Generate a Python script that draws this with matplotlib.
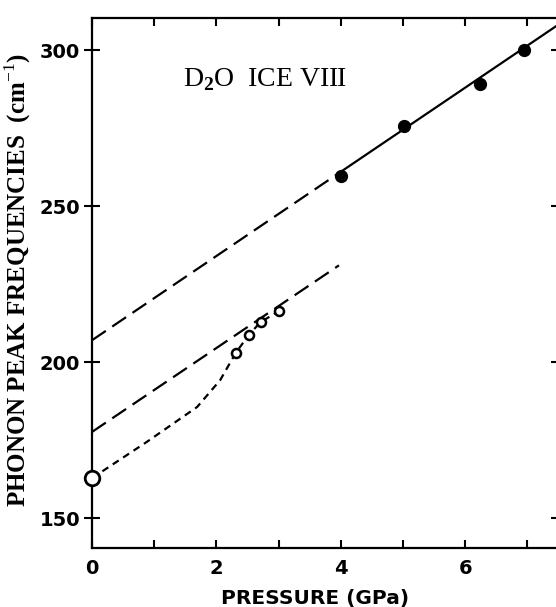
import matplotlib
matplotlib.use('Agg')
import matplotlib.pyplot as plt

# measured points (GPa, cm-1)
filled_p = [4.0, 5.02, 6.23, 6.94]
filled_f = [259.6, 275.6, 289.1, 300.0]

open_p = [2.31, 2.52, 2.71, 3.0]
open_f = [202.9, 208.7, 212.8, 216.3]

zero_p = [0.0]
zero_f = [162.8]

# guide curve through low pressure data
curve_p = [0.0, 0.88, 1.69, 2.06, 2.31, 2.52, 2.71, 3.0]
curve_f = [162.8, 174.4, 185.6, 194.2, 202.9, 208.7, 212.8, 216.3]

# fitted lines (end points)
upper_dash_p = [0.0, 4.0]
upper_dash_f = [207.0, 261.0]
upper_solid_p = [4.0, 7.5]
upper_solid_f = [261.0, 308.2]
lower_dash_p = [0.0, 3.97]
lower_dash_f = [177.6, 231.0]

xticks_major = [0, 2, 4, 6]
xticks_minor = [1, 3, 5, 7]
yticks = [150, 200, 250, 300]

plt.rcParams['mathtext.fontset'] = 'custom'
plt.rcParams['mathtext.rm'] = 'Liberation Serif'
plt.rcParams['mathtext.bf'] = 'Liberation Serif:bold'

fig = plt.figure(figsize=(5.56, 6.07), dpi=100)
ax = fig.add_axes([92 / 556, 59 / 607, 466.5 / 556, 530 / 607])

lw = 1.6
ax.plot(upper_dash_p, upper_dash_f, color='black', lw=lw, dashes=(7.5, 3.5))
ax.plot(upper_solid_p, upper_solid_f, color='black', lw=lw)
ax.plot(lower_dash_p, lower_dash_f, color='black', lw=lw, dashes=(7.5, 3.5))
ax.plot(curve_p, curve_f, color='black', lw=lw, dashes=(3.2, 2.4))

ax.plot(filled_p, filled_f, 'o', color='black', ms=8.5, zorder=5)
ax.plot(open_p, open_f, 'o', mfc='white', mec='black', mew=1.8, ms=6.5, zorder=5)
ax.plot(zero_p, zero_f, 'o', mfc='white', mec='black', mew=2.0, ms=10.5, zorder=6, clip_on=False)

ax.set_xlim(0, 7.5)
ax.set_ylim(140.4, 310.3)

for s in ax.spines.values():
    s.set_linewidth(1.6)

ax.set_xticks(xticks_major)
ax.set_xticks(xticks_minor, minor=True)
ax.set_yticks(yticks)
ax.tick_params(axis='x', which='both', direction='in', top=True, length=6, width=1.5,
               pad=8, labelsize=14)
ax.tick_params(axis='y', which='major', direction='inout', right=True, length=11, width=1.5,
               pad=3, labelsize=14)
for lab in ax.get_xticklabels() + ax.get_yticklabels():
    lab.set_fontweight('bold')

ax.set_xlabel('PRESSURE (GPa)', fontsize=14.5, fontweight='bold')
ax.xaxis.set_label_coords(0.478, -0.078)
ax.set_ylabel(r'PHONON PEAK FREQUENCIES  (cm$^{-1}$)', family='Liberation Serif',
              fontsize=18, fontweight='bold')
ax.yaxis.set_label_coords(-0.126, 0.506)

ax.text(2.78, 290.7, r'D$_{\mathbf{2}}$O  ICE VIII', family='Liberation Serif',
        fontsize=20, ha='center', va='center')

fig.savefig('out.png', dpi=100)
